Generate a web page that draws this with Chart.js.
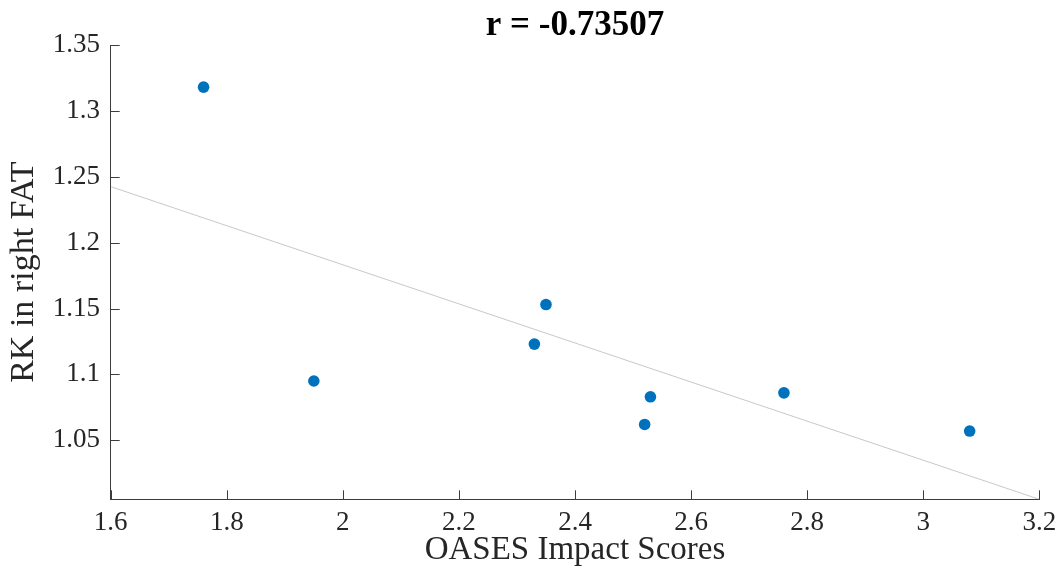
<!DOCTYPE html>
<html>
<head>
<meta charset="utf-8">
<script src="https://cdn.jsdelivr.net/npm/chart.js@4/dist/chart.umd.min.js"></script>
<style>
  html, body { margin: 0; padding: 0; background: #ffffff; }
  #wrap { width: 1064px; height: 571px; }
</style>
</head>
<body>
<div id="wrap"><canvas id="c" width="1064" height="571"></canvas></div>
<script>
// ---- data ----
const titleText = 'r = -0.73507';
const xAxisTitle = 'OASES Impact Scores';
const yAxisTitle = 'RK in right FAT';
const scoreX = [1.76, 1.95, 2.33, 2.35, 2.52, 2.53, 2.76, 3.08];
const rkY = [1.318, 1.095, 1.123, 1.153, 1.062, 1.083, 1.086, 1.057];
const fitX = [1.6, 3.2];
const fitY = [1.2425, 1.0052];
const xTicks = [1.6, 1.8, 2.0, 2.2, 2.4, 2.6, 2.8, 3.0, 3.2];
const yTicks = [1.05, 1.1, 1.15, 1.2, 1.25, 1.3, 1.35];
const xRange = [1.6, 3.2];
const yRange = [1.0052, 1.35];

const points = scoreX.map((x, i) => ({ x: x, y: rkY[i] }));
const fitLine = fitX.map((x, i) => ({ x: x, y: fitY[i] }));

const AXIS_COLOR = '#3c3c3c';
const TEXT_COLOR = '#262626';
const SERIF = '"Liberation Serif", "DejaVu Serif", serif';

// inward tick marks (MATLAB style) + title centred over the axes
const innerTicks = {
  id: 'innerTicks',
  afterDatasetsDraw(chart) {
    const ctx = chart.ctx;
    const xs = chart.scales.x, ys = chart.scales.y;
    const a = chart.chartArea;
    const len = 9;
    ctx.save();
    ctx.strokeStyle = AXIS_COLOR;
    ctx.lineWidth = 1;
    ctx.beginPath();
    xs.ticks.forEach(t => {
      const px = Math.round(xs.getPixelForValue(t.value)) + 0.5;
      ctx.moveTo(px, a.bottom);
      ctx.lineTo(px, a.bottom - len);
    });
    ys.ticks.forEach(t => {
      const py = Math.round(ys.getPixelForValue(t.value)) + 0.5;
      ctx.moveTo(a.left, py);
      ctx.lineTo(a.left + len, py);
    });
    ctx.stroke();
    // title
    ctx.fillStyle = '#000000';
    ctx.font = 'bold 35px ' + SERIF;
    ctx.textAlign = 'center';
    ctx.textBaseline = 'alphabetic';
    ctx.fillText(titleText, (a.left + a.right) / 2, 35);
    ctx.restore();
  }
};

new Chart(document.getElementById('c'), {
  type: 'scatter',
  data: {
    datasets: [
      {
        type: 'line',
        data: fitLine,
        borderColor: 'rgb(200,200,200)',
        borderWidth: 1,
        pointRadius: 0,
        fill: false,
        tension: 0,
        order: 2
      },
      {
        data: points,
        backgroundColor: '#0072BD',
        borderColor: '#0072BD',
        borderWidth: 0,
        pointRadius: 5.8,
        pointHoverRadius: 5.8,
        order: 1
      }
    ]
  },
  options: {
    responsive: false,
    animation: false,
    layout: { padding: { left: 0, right: 24.7, top: 45, bottom: 0 } },
    plugins: {
      legend: { display: false },
      tooltip: { enabled: false },
      title: { display: false }
    },
    scales: {
      x: {
        type: 'linear',
        min: xRange[0],
        max: xRange[1],
        afterBuildTicks(scale) { scale.ticks = xTicks.map(v => ({ value: v })); },
        afterFit(scale) { scale.height = 571 - 499.3; },
        grid: { display: false, drawOnChartArea: false, drawTicks: false },
        border: { display: true, color: AXIS_COLOR, width: 1 },
        ticks: {
          color: TEXT_COLOR,
          padding: 7,
          maxRotation: 0,
          autoSkip: false,
          font: { family: SERIF, size: 27 },
          callback: (v) => String(Math.round(v * 10) / 10)
        },
        title: {
          display: true,
          text: xAxisTitle,
          color: TEXT_COLOR,
          font: { family: SERIF, size: 33, lineHeight: 1.2 },
          padding: { top: 0, bottom: 0.5 }
        }
      },
      y: {
        type: 'linear',
        min: yRange[0],
        max: yRange[1],
        afterBuildTicks(scale) { scale.ticks = yTicks.map(v => ({ value: v })); },
        afterFit(scale) { scale.width = 110.7; },
        grid: { display: false, drawOnChartArea: false, drawTicks: false },
        border: { display: true, color: AXIS_COLOR, width: 1 },
        ticks: {
          color: TEXT_COLOR,
          padding: 10.7,
          autoSkip: false,
          font: { family: SERIF, size: 27 },
          callback: (v) => String(Math.round(v * 100) / 100)
        },
        title: {
          display: true,
          text: yAxisTitle,
          color: TEXT_COLOR,
          font: { family: SERIF, size: 34, lineHeight: 1.2 },
          padding: { top: 4, bottom: 0 }
        }
      }
    }
  },
  plugins: [innerTicks]
});
</script>
</body>
</html>
